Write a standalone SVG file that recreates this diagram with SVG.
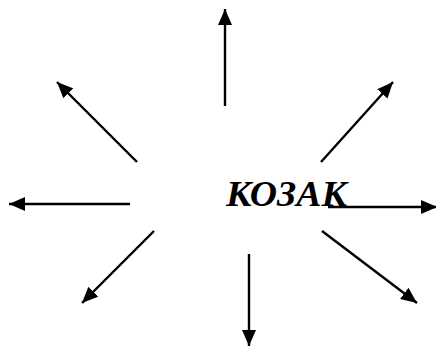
<svg xmlns="http://www.w3.org/2000/svg" width="436" height="347" viewBox="0 0 436 347">
<defs>
<marker id="ah" viewBox="0 0 16 14" refX="16" refY="7" markerWidth="16" markerHeight="14" markerUnits="userSpaceOnUse" orient="auto">
<path d="M0,0 L16,7 L0,14 z" fill="#000"/>
</marker>
<style>
.c line{stroke:#000;stroke-width:2.4;marker-end:url(#ah)}
.t{font-family:"Liberation Serif","Times New Roman",serif;font-weight:bold;font-style:italic;font-size:36px;fill:#000}
</style>
</defs>
<rect width="436" height="347" fill="#fff"/>
<g id="node-kozak">
<text class="t" x="226" y="206" textLength="121" lengthAdjust="spacingAndGlyphs">КОЗАК</text>
</g>
<g class="c" id="connectors">
<line x1="225" y1="106" x2="225" y2="9"/>
<line x1="130" y1="204" x2="9" y2="204"/>
<line x1="328" y1="207" x2="437" y2="207"/>
<line x1="249" y1="254" x2="249" y2="346"/>
<line x1="137" y1="162" x2="57" y2="82"/>
<line x1="321" y1="162" x2="393" y2="82"/>
<line x1="154" y1="231" x2="82" y2="303"/>
<line x1="322" y1="231" x2="417" y2="303"/>
</g>
</svg>
